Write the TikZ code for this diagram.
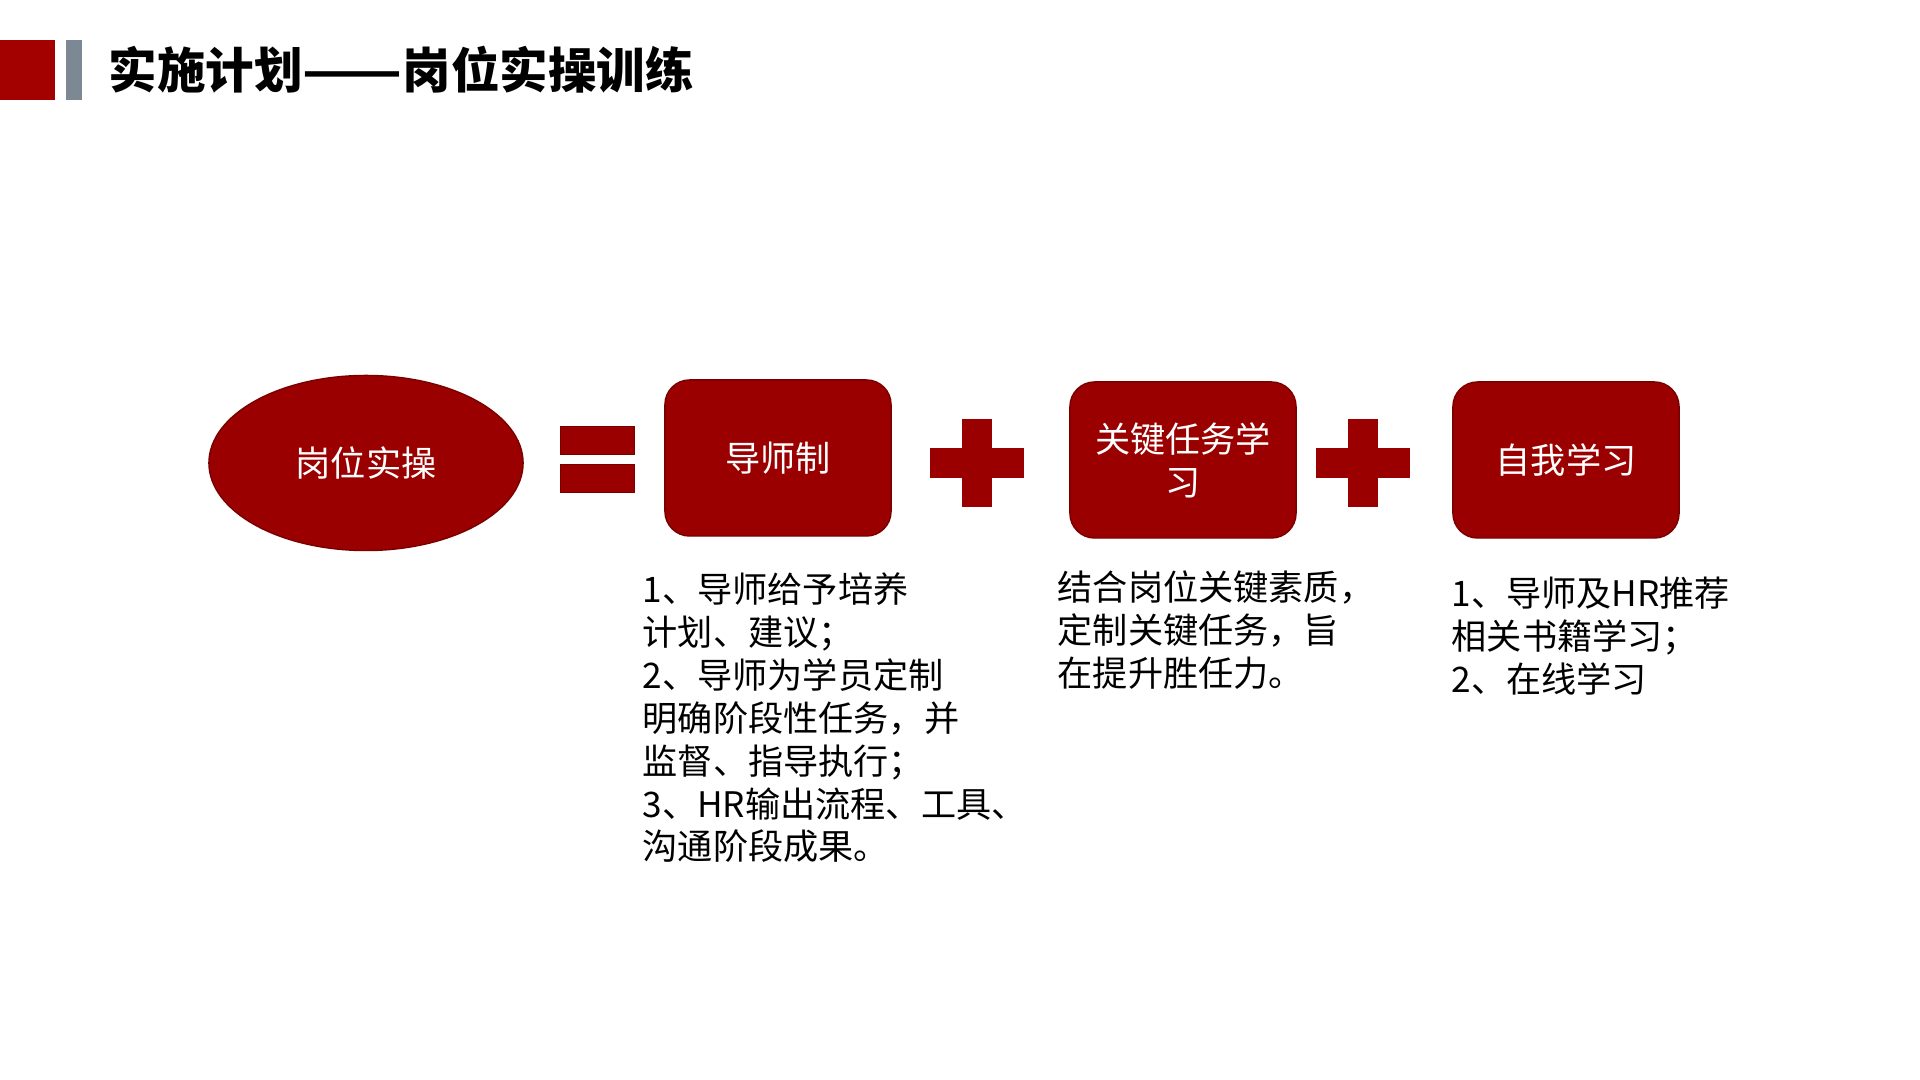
\documentclass[tikz,border=0pt]{standalone}
\usepackage{fontspec}
\setmainfont{Noto Sans CJK SC}
\usepackage{xcolor}
\usepackage{tikz}
\usetikzlibrary{shapes.geometric,positioning}

\definecolor{darkred}{HTML}{9B0000}
\definecolor{edgered}{HTML}{7A0000}
\definecolor{markred}{HTML}{A30000}
\definecolor{slategray}{HTML}{7D8895}

\begin{document}
\begin{tikzpicture}[x=0.01cm, y=-0.01cm,
  core/.style={ellipse, draw=edgered, thin, fill=darkred, text=white, font=\fontsize{10}{12.2}\selectfont, minimum width=3.14cm, minimum height=1.75cm, inner sep=0pt},
  part/.style={draw=edgered, thin, fill=darkred, rounded corners=7pt, text=white, font=\fontsize{10}{12.2}\selectfont, minimum width=2.26cm, minimum height=1.56cm, align=center, inner sep=0pt},
  sign/.style={fill=darkred, draw=edgered, very thin},
  note/.style={anchor=north west, align=left, font=\fontsize{10}{12.2}\selectfont, inner sep=0pt}
]
\useasboundingbox (0,0) rectangle (1920,1080);

% Title bar
\fill[markred] (0,40) rectangle (55,100);
\fill[slategray] (66,40) rectangle (82,100);
\node[anchor=west, inner sep=0pt, font=\bfseries\fontsize{13.8}{16}\selectfont] (title) at (108,70) {实施计划\scalebox{1.2}[1]{——}岗位实操训练};

% Ellipse and boxes
\node[core] (gwsc) at (366,463) {岗位实操};
\node[part] (mentor) at (778,458) {导师制};
\node[part] (keytask) at (1183,460) {关键任务学\\习};
\node[part] (selfstudy) at (1566,460) {自我学习};

% Equals sign
\draw[sign] (560,426) rectangle (634,454);
\draw[sign] (560,464) rectangle (634,492);

% Plus signs
\foreach \cx in {977,1363} {
  \fill[darkred] (\cx-47,448) rectangle (\cx+47,478);
  \fill[darkred] (\cx-15,419) rectangle (\cx+15,507);
}

% Descriptions
\node[note] (mentortxt) at (642,572) {1、导师给予培养\\计划、建议；\\2、导师为学员定制\\明确阶段性任务，并\\监督、指导执行；\\3、HR输出流程、工具、\\沟通阶段成果。};
\node[note] (keytasktxt) at (1057,570) {结合岗位关键素质，\\定制关键任务，旨\\在提升胜任力。};
\node[note] (selfstudytxt) at (1451,576) {1、导师及HR推荐\\相关书籍学习；\\2、在线学习};
\end{tikzpicture}
\end{document}
